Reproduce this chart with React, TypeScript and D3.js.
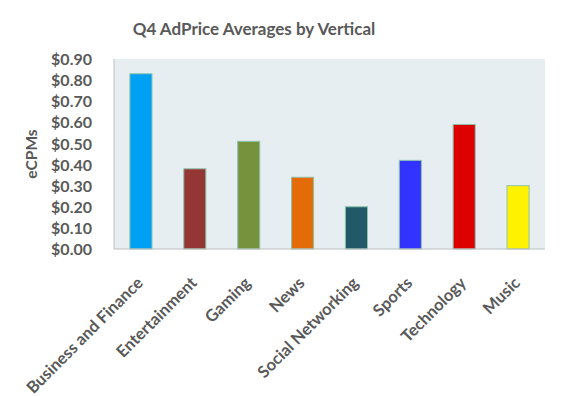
import * as d3 from 'd3';

const categories = ['Business and Finance', 'Entertainment', 'Gaming', 'News', 'Social Networking', 'Sports', 'Technology', 'Music'];
const values = [0.83, 0.38, 0.51, 0.34, 0.2, 0.42, 0.59, 0.3];
const colors = ['#00a0f4', '#943634', '#76923c', '#e36c09', '#215968', '#3333ff', '#dd0000', '#fff200'];
const yTicks = [0, 0.1, 0.2, 0.3, 0.4, 0.5, 0.6, 0.7, 0.8, 0.9];

const width = 577;
const height = 396;
const margin = { top: 59, right: 32, bottom: 147, left: 114 };
const font = 'Lato, "Open Sans", sans-serif';
const grey = '#595959';

export default function App() {
  const x = d3.scaleBand<string>()
    .domain(categories)
    .range([margin.left, width - margin.right])
    .paddingInner(0.59)
    .paddingOuter(0.295);
  const y = d3.scaleLinear()
    .domain([0, 0.9])
    .range([height - margin.bottom, margin.top]);
  const fmt = d3.format('$.2f');

  return (
    <svg width={width} height={height} style={{ position: 'absolute', left: 0, top: 0 }}>
      <text x={254} y={35} textAnchor="middle" fontFamily={font} fontWeight="bold" fontSize={17} fill={grey}>
        Q4 AdPrice Averages by Vertical
      </text>
      <rect x={margin.left} y={margin.top} width={width - margin.left - margin.right}
        height={height - margin.top - margin.bottom} fill="#e7eef2" />
      {categories.map((c, i) => (
        <rect key={c} x={x(c)} y={y(values[i])} width={x.bandwidth()}
          height={y(0) - y(values[i])} fill={colors[i]} stroke="#8dc3ad" strokeWidth={1} />
      ))}
      <line x1={margin.left} x2={margin.left} y1={margin.top} y2={y(0)} stroke="#bfbfbf" />
      <line x1={margin.left} x2={width - margin.right} y1={y(0)} y2={y(0)} stroke="#bfbfbf" />
      {yTicks.map(t => (
        <text key={t} x={92} y={y(t)} dy="0.38em" textAnchor="end" fontFamily={font}
          fontWeight="bold" fontSize={16} fill={grey}>{fmt(t)}</text>
      ))}
      <text transform={`translate(37,${(margin.top + y(0)) / 2}) rotate(-90)`} textAnchor="middle"
        fontFamily={font} fontWeight="bold" fontSize={15.5} fill={grey}>eCPMs</text>
      {categories.map(c => {
        const cx = (x(c) ?? 0) + x.bandwidth() / 2;
        return (
          <text key={c} transform={`translate(${cx + 3},${y(0) + 35}) rotate(-45)`} textAnchor="end"
            fontFamily={font} fontWeight="bold" fontSize={16.5} fill={grey}>{c}</text>
        );
      })}
    </svg>
  );
}
